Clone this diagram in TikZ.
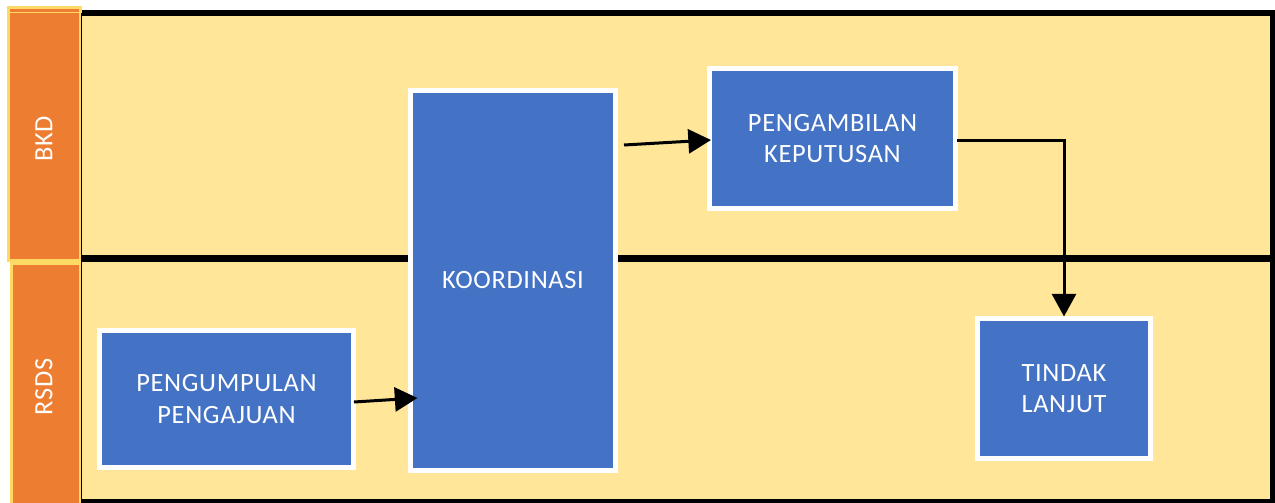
\documentclass[tikz,border=0pt]{standalone}
\usepackage{fontspec}
\setmainfont{Carlito}
\newfontfamily\boxfont[LetterSpace=2.5]{Carlito}
\usetikzlibrary{arrows.meta,calc}
\definecolor{laneyellow}{HTML}{FFE699}
\definecolor{boxblue}{HTML}{4472C4}
\definecolor{laneorange}{HTML}{ED7D31}
\definecolor{lanegold}{HTML}{FFD966}
\tikzset{
  stepbox/.style={draw=white, fill=boxblue, line width=3.75pt, text=white, align=center,
    font=\boxfont\fontsize{19.8pt}{23.3pt}\selectfont, inner sep=0pt},
  lanelabel/.style={text=white, rotate=90, font=\boxfont\fontsize{19.8pt}{23pt}\selectfont, inner sep=0pt},
  conn/.style={line width=2.25pt, -{Triangle[length=17pt,width=18pt]}},
}
\begin{document}
\begin{tikzpicture}[x=0.75pt,y=-0.75pt]
\useasboundingbox (0,0) rectangle (1275,503);
% lanes background
\fill[laneyellow] (82,13) rectangle (1272,501);
\fill[black] (82,10) rectangle (1275,16.5);
\fill[black] (1270,10) rectangle (1275,503);
\fill[black] (82,499) rectangle (1275,503);
\fill[black] (82,255) rectangle (1270,262);
% lane label boxes
\draw[lanegold, fill=laneorange, line width=2.25pt] (8.5,7.5) rectangle (80.5,260.5);
\draw[lanegold, line width=1pt] (10,12.5) -- (79,12.5);
\draw[lanegold, fill=laneorange, line width=2.25pt] (11.5,263.5) rectangle (80,505);
\draw[black, line width=1.2pt] (81.5,13) -- (81.5,503);
\node[lanelabel] (bkd) at (44,139) {BKD};
\node[lanelabel] (rsds) at (44,387) {RSDS};
% process boxes
\node[stepbox, minimum width=153.75pt, minimum height=285pt] (koor) at (513,280.5) {KOORDINASI};
\node[stepbox, minimum width=184.5pt, minimum height=105pt] (ambil) at (832.5,138.5) {PENGAMBILAN\\KEPUTUSAN};
\node[stepbox, minimum width=190.5pt, minimum height=102.75pt] (kumpul) at (226.5,399) {PENGUMPULAN\\PENGAJUAN};
\node[stepbox, minimum width=129.75pt, minimum height=105pt] (tindak) at (1064,388.5) {TINDAK\\LANJUT};
% connectors
\draw[conn] ($(kumpul.east)+(-2,3)$) -- ($(koor.west)+(9.5,117.5)$);
\draw[conn] ($(koor.east)+(6,-135.5)$) -- ($(ambil.west)+(4,1.5)$);
\draw[conn] ($(ambil.east)+(-1,1.5)$) -| ($(tindak.north)+(0,0.5)$);
\end{tikzpicture}
\end{document}
